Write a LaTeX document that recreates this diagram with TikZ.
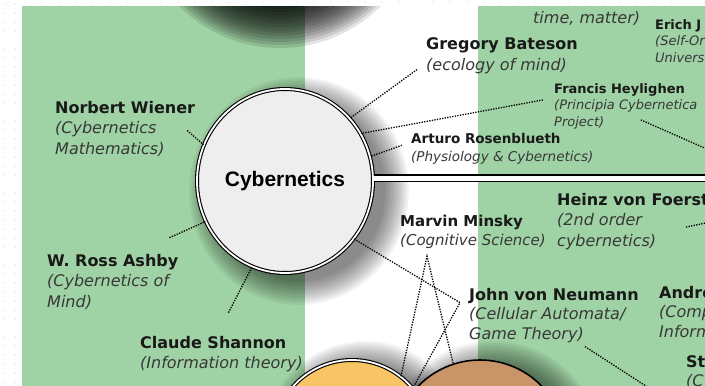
\documentclass[tikz,border=0pt]{standalone}
\usepackage{fontspec}
\setmainfont{DejaVu Sans}
\newfontfamily\cybfont{Liberation Sans}
\usetikzlibrary{shapes.geometric}

\definecolor{mapgreen}{RGB}{159,210,164}
\definecolor{cybfill}{RGB}{238,238,238}
\definecolor{orngfill}{RGB}{249,196,102}
\definecolor{brwnfill}{RGB}{200,148,104}

\newcommand{\descline}[1]{{\color{black!78}\itshape #1}}

\tikzset{name_style/.style={anchor=base west, align=left, inner sep=0pt, text=black!90, font=\fontsize{16}{20.5}\selectfont}}
\tikzset{mid_style/.style={name_style, font=\fontsize{15}{19}\selectfont}}
\tikzset{small_style/.style={name_style, font=\fontsize{13}{16.5}\selectfont}}
\tikzset{link_style/.style={line width=1.3pt, dash pattern=on 1.3pt off 1.3pt}}
\tikzset{ring_style/.style={circle, draw=black, line width=1.1pt, double=white, double distance=1.8pt, inner sep=0pt}}
\tikzset{soft_style/.style={fill=black, opacity=0.045}}

\begin{document}
\begin{tikzpicture}[x=1pt, y=-1pt]
    \useasboundingbox (0,0) rectangle (705,386);
    \clip (0,0) rectangle (705,386);

    % background bands
    \fill[mapgreen] (22,6) rectangle (305,386);
    \fill[white] (305,6) rectangle (478,386);
    \fill[mapgreen] (478,6) rectangle (705,386);

    % soft shadows (circle above the frame, then the three circles)
    \foreach \rr in {100,103,...,142} {
        \fill[soft_style, opacity=0.11] (280,-94) circle (\rr);
    }
    \foreach \rr in {0,2,...,24} {
        \fill[soft_style] (299,191) ellipse ({86+\rr} and {90+\rr});
        \fill[soft_style] (365,443) circle ({78+\rr});
        \fill[soft_style] (493,450) circle ({85+\rr});
    }

    % circles
    \node[circle, draw=black, line width=1.6pt, fill=brwnfill, minimum size=172pt, inner sep=0pt] (brwn) at (480,446) {};
    \node[ring_style, fill=orngfill, minimum size=158pt] (orng) at (352,439) {};
    \node[ring_style, ellipse, fill=cybfill, minimum width=176pt, minimum height=184pt,
          font=\cybfont\bfseries\fontsize{21}{21}\selectfont] (cyb) at (285,181) {Cybernetics};

    \coordinate (cyb_out) at (725,178);
    \draw[line width=1.5pt, double=white, double distance=5pt] (cyb_out -| cyb.east) -- (cyb_out);

    % labels (placed at the baseline of their last line)
    \node[name_style] (wiener) at (55,154) {\textbf{Norbert Wiener}\\\descline{(Cybernetics}\\\descline{Mathematics)}};
    \node[name_style] (ashby) at (47,307) {\textbf{W. Ross Ashby}\\\descline{(Cybernetics of}\\\descline{Mind)}};
    \node[name_style] (shannon) at (140,368.5) {\textbf{Claude Shannon}\\\descline{(Information theory)}};
    \node[name_style] (bateson) at (426,70) {\textbf{Gregory Bateson}\\\descline{(ecology of mind)}};
    \node[name_style] (matter) at (533,23) {\descline{time, matter)}};
    \node[small_style] (jantsch) at (655,62) {\textbf{Erich J}\\\descline{(Self-Or}\\\descline{Univers}};
    \node[small_style] (heylighen) at (554,126) {\textbf{Francis Heylighen}\\\descline{(Principia Cybernetica}\\\descline{Project)}};
    \node[name_style, font=\fontsize{13.5}{18}\selectfont] (rosenblueth) at (411,161) {\textbf{Arturo Rosenblueth}\\\descline{(Physiology \& Cybernetics)}};
    \node[name_style] (foerster) at (557,246) {\textbf{Heinz von Foerst}\\\descline{(2nd order}\\\descline{cybernetics)}};
    \node[mid_style] (minsky) at (400,245) {\textbf{Marvin Minsky}\\\descline{(Cognitive Science)}};
    \node[name_style, font=\fontsize{16}{19.5}\selectfont] (jvn) at (469,339) {\textbf{John von Neumann}\\\descline{(Cellular Automata/}\\\descline{Game Theory)}};
    \node[name_style, font=\fontsize{16}{19.5}\selectfont] (andre) at (659,337) {\textbf{Andre}\\\descline{(Comp}\\\descline{Inform}};
    \node[name_style, font=\fontsize{16}{19}\selectfont] (st) at (686,386) {\textbf{St}\\\descline{(C}};

    % dotted links
    \coordinate (heyl_out) at (725,157);
    \coordinate (foer_out) at (725,219);
    \coordinate (jvn_out) at (672,403);

    \draw[link_style] ([shift={(-8,2)}]wiener.east) -- (cyb.156);
    \draw[link_style] ([shift={(-9,-16)}]ashby.north east) -- (cyb.207);
    \draw[link_style] ([shift={(7,-23)}]shannon.north) -- (cyb.249);
    \draw[link_style] ([shift={(-9,-4)}]bateson.south west) -- (cyb.44);
    \draw[link_style] ([shift={(-11,-6)}]heylighen.west) -- (cyb.32);
    \draw[link_style] ([shift={(15,-9)}]heylighen.south) -- (heyl_out);
    \draw[link_style] ([shift={(-9,-3)}]rosenblueth.west) -- (cyb.16);
    \draw[link_style] ([shift={(-23,6)}]foerster.east) -- (foer_out);
    \draw[link_style] (orng.52) -- ([shift={(27,8)}]minsky.south west) -- (brwn.108);
    \draw[link_style] (cyb.320) -- ([shift={(-9,15)}]jvn.north west) -- (orng.40);
    \draw[link_style] ([shift={(31,4)}]jvn.south) -- (jvn_out);

    % page margin
    \fill[white] (0,0) rectangle (22,386);
    \fill[white] (0,0) rectangle (705,6);
    \foreach \yy in {4,13,...,386} {
        \fill[black!20] (5,\yy) circle (0.7);
        \fill[black!20] (15,\yy) circle (0.7);
    }
    \foreach \xx in {8,25,...,705} {
        \fill[black!20] (\xx,2) circle (0.7);
    }
\end{tikzpicture}
\end{document}
